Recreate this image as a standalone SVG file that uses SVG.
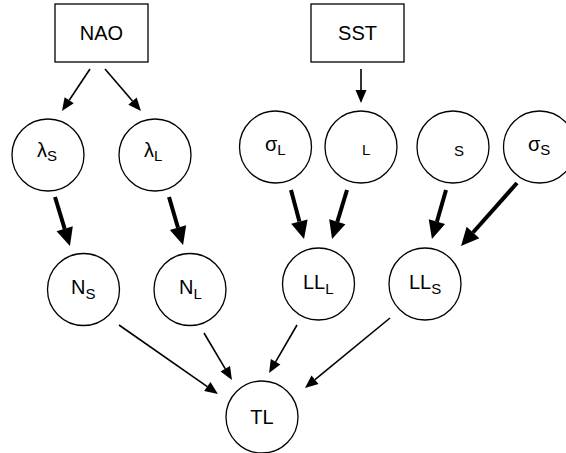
<svg xmlns="http://www.w3.org/2000/svg" width="566" height="453" viewBox="0 0 566 453">
<style>
.box{fill:#fff;stroke:#000;stroke-width:1.3}
.node{fill:#fff;stroke:#000;stroke-width:1.3}
.t{font-family:"Liberation Sans",Arial,sans-serif;font-size:20px;fill:#000}
.sub{font-size:15px}
.thin{stroke:#000;stroke-width:1.6;fill:none}
.thick{stroke:#000;stroke-width:4;fill:none}
</style>
<defs>
<marker id="ah" markerUnits="userSpaceOnUse" markerWidth="14" markerHeight="12" refX="0" refY="6" orient="auto" overflow="visible">
<path d="M0,0.5 L13,6 L0,11.5 z" fill="#000"/>
</marker>
<marker id="ahb" markerUnits="userSpaceOnUse" markerWidth="19" markerHeight="18" refX="0" refY="9" orient="auto" overflow="visible">
<path d="M0,0.5 L18,9 L0,17.5 z" fill="#000"/>
</marker>
</defs>
<rect width="566" height="453" fill="#fff"/>
<g id="connectors">
<line class="thin" x1="90" y1="69" x2="69.2" y2="100.2" marker-end="url(#ah)"/>
<line class="thin" x1="105" y1="69" x2="132.5" y2="101.1" marker-end="url(#ah)"/>
<line class="thin" x1="361" y1="69" x2="361" y2="90" marker-end="url(#ah)"/>
<line class="thin" x1="119" y1="325" x2="207.3" y2="386.6" marker-end="url(#ah)"/>
<line class="thin" x1="204" y1="333" x2="225.3" y2="368.8" marker-end="url(#ah)"/>
<line class="thin" x1="297" y1="325" x2="275.6" y2="361.8" marker-end="url(#ah)"/>
<line class="thin" x1="390" y1="318" x2="315" y2="379.7" marker-end="url(#ah)"/>
<line class="thick" x1="55" y1="197" x2="64.7" y2="228.8" marker-end="url(#ahb)"/>
<line class="thick" x1="169" y1="197" x2="178" y2="227.7" marker-end="url(#ahb)"/>
<line class="thick" x1="291" y1="190" x2="299.4" y2="221.6" marker-end="url(#ahb)"/>
<line class="thick" x1="347" y1="190" x2="337.3" y2="221.8" marker-end="url(#ahb)"/>
<line class="thick" x1="446" y1="190" x2="436.9" y2="221.7" marker-end="url(#ahb)"/>
<line class="thick" x1="517" y1="183" x2="473" y2="232.5" marker-end="url(#ahb)"/>
</g>
<g id="NAO"><rect class="box" x="55" y="4" width="93" height="58"/><text class="t" x="101.5" y="40" text-anchor="middle">NAO</text></g>
<g id="SST"><rect class="box" x="311" y="4" width="93" height="58"/><text class="t" x="357.5" y="40" text-anchor="middle">SST</text></g>
<g id="lambdaS"><circle class="node" cx="48" cy="155" r="36"/><text class="t" x="37" y="157">λ<tspan class="sub" dy="4">S</tspan></text></g>
<g id="lambdaL"><circle class="node" cx="155" cy="155" r="36"/><text class="t" x="144" y="157">λ<tspan class="sub" dy="4">L</tspan></text></g>
<g id="sigmaL"><circle class="node" cx="275.5" cy="147" r="36"/><text class="t" x="265" y="151">σ<tspan class="sub" dy="4">L</tspan></text></g>
<g id="L"><circle class="node" cx="361" cy="147" r="36"/><text class="t sub" x="362" y="155">L</text></g>
<g id="S"><circle class="node" cx="453" cy="147" r="36"/><text class="t sub" x="454" y="156">S</text></g>
<g id="sigmaS"><circle class="node" cx="539.5" cy="147" r="36"/><text class="t" x="528" y="151">σ<tspan class="sub" dy="4">S</tspan></text></g>
<g id="NS"><circle class="node" cx="83.5" cy="289.5" r="36"/><text class="t" x="71" y="294">N<tspan class="sub" dy="5">S</tspan></text></g>
<g id="NL"><circle class="node" cx="190" cy="289.5" r="36"/><text class="t" x="179" y="294">N<tspan class="sub" dy="5">L</tspan></text></g>
<g id="LLL"><circle class="node" cx="318.5" cy="284" r="36"/><text class="t" x="303" y="289">LL<tspan class="sub" dy="5">L</tspan></text></g>
<g id="LLS"><circle class="node" cx="425" cy="284" r="36"/><text class="t" x="409" y="289">LL<tspan class="sub" dy="5">S</tspan></text></g>
<g id="TL"><circle class="node" cx="262" cy="417" r="36"/><text class="t" x="262" y="424" text-anchor="middle">TL</text></g>
</svg>
